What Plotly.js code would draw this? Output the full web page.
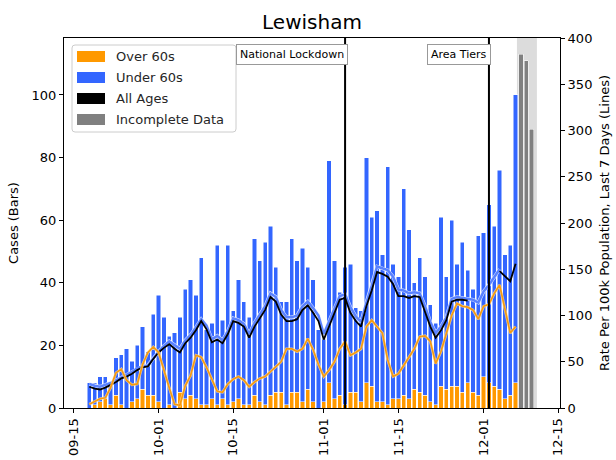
<!DOCTYPE html>
<html><head><meta charset="utf-8">
<script src="https://cdn.plot.ly/plotly-3.0.1.min.js"></script>
<style>html,body{margin:0;padding:0;background:#fff}#chart{width:616px;height:460px}</style>
</head><body><div id="chart"></div>
<script>
// ---- data ----
const startDate = '2020-09-18';   // first daily bar, one bar per day
const over60Cases = [0,1,2,3,1,4,1,0,2,3, 6,4,4,2,0,1,0,5,3,4, 3,1,1,3,1,3,1,2,3,1, 1,4,2,1,4,5,5,1,5,5, 2,6,2,0,2,8,3,4,1,5, 5,2,8,7,2,2,1,3,3,4, 3,6,5,4,2,1,7,6,7,7, 5,8,5,4,10,8,7,6,3,4, 8];
const under60Cases = [8,7,8,7,7,12,16,19,13,17, 20,14,26,34,29,22,24,24,35,37, 33,47,24,24,51,25,51,29,38,33, 28,50,45,52,54,40,29,33,49,42, 49,39,39,25,20,71,44,33,44,41, 27,29,72,54,61,47,76,43,39,66, 54,34,43,38,31,26,54,36,53,39, 48,36,33,51,46,57,51,70,46,48, 92];
const incompleteDates = ['2020-12-08','2020-12-09','2020-12-10'];
const incompleteCases = [113,111,89];
const allAgesRate = [23,21,20,22,25,28,32,34,37,41, 44,45,53,60,65,69,64,60,70,76, 84,94,85,71,74,70,80,94,92,88, 76,88,97,106,120,115,101,94,94,96, 106,111,103,94,74,88,103,117,119,103, 94,88,110,127,147,145,142,134,121,121, 119,121,120,105,88,76,84,95,115,117, 117,116,null,null,null,null,null,148,142,137, 156];
const under60Rate = [26,24,23,25,27,30,33,36,39,43, 45,46,54,61,67,72,68,64,73,79, 87,96,89,74,78,73,83,97,95,91, 80,92,101,110,124,120,106,98,98,100, 110,115,108,100,80,94,108,121,123,109, 99,93,114,132,153,151,149,142,128,127, 124,125,124,110,93,81,88,98,118,120, 119,118,117,114,126,133,141,150,null,null, null];
const over60Rate = [4,7,10,11,22,38,42,30,25,26, 47,60,66,60,40,22,4,3,24,35, 57,55,44,30,18,17,26,31,34,30, 23,28,32,34,39,45,50,64,64,61, 64,75,63,47,34,41,50,64,72,57, 60,64,88,95,88,81,52,34,37,46, 55,64,77,78,72,48,61,80,100,113, 110,109,106,96,110,112,124,133,105,81, 88];
const tickDates = ['2020-09-15','2020-10-01','2020-10-15','2020-11-01','2020-11-15','2020-12-01','2020-12-15'];
const tickLabels = ['09-15','10-01','10-15','11-01','11-15','12-01','12-15'];
const eventDates = ['2020-11-05','2020-12-02'];
const eventLabels = ['National Lockdown','Area Tiers'];
const legendLabels = ['Over 60s','Under 60s','All Ages','Incomplete Data'];
const legendColors = ['#ff9900','#3366ff','#000000','#808080'];

// ---- helpers ----
function dayList(start, n){
  const out = []; const t0 = Date.parse(start + 'T00:00:00Z');
  for (let i = 0; i < n; i++) out.push(new Date(t0 + i*864e5).toISOString().slice(0,10));
  return out;
}
const dates = dayList(startDate, over60Cases.length);
const DAY = 864e5;
const barW = 0.8*DAY;
const ORANGE = '#ff9900', BLUE = '#3366ff';

const traces = [
  {type:'bar', x:dates, y:over60Cases, width:barW, marker:{color:ORANGE, line:{color:'#ffffff', width:0.5}}, yaxis:'y'},
  {type:'bar', x:dates, y:under60Cases, width:barW, marker:{color:BLUE, line:{color:'#ffffff', width:0.5}}, yaxis:'y'},
  {type:'bar', x:incompleteDates, y:incompleteCases, width:barW, marker:{color:'#808080', line:{color:'#ffffff', width:0.5}}, yaxis:'y'},
  {type:'scatter', mode:'lines', x:dates, y:under60Rate, yaxis:'y2', line:{color:'rgba(235,241,255,0.9)', width:3.6}},
  {type:'scatter', mode:'lines', x:dates, y:under60Rate, yaxis:'y2', line:{color:'#5a82ff', width:2.5}},
  {type:'scatter', mode:'lines', x:dates, y:allAgesRate, yaxis:'y2', line:{color:'#000000', width:1.8}},
  {type:'scatter', mode:'lines', x:dates, y:over60Rate, yaxis:'y2', line:{color:'rgba(255,225,170,0.8)', width:2.8}},
  {type:'scatter', mode:'lines', x:dates, y:over60Rate, yaxis:'y2', line:{color:'#f59a10', width:1.7}}
];

const L = 64, R = 560, T = 38, B = 408;
const px2x = p => (p - L)/(R - L);
const px2y = p => (B - p)/(B - T);

const shapes = [
  {type:'rect', xref:'x', yref:'paper', x0:'2020-12-07 06:00', x1:'2020-12-11 00:00', y0:0, y1:1, fillcolor:'#dcdcdc', line:{width:0}, layer:'below'}
];
eventDates.forEach(d => shapes.push({type:'line', xref:'x', yref:'paper', x0:d, x1:d, y0:0, y1:1, line:{color:'#000', width:2}}));

const annotations = [];
eventDates.forEach((d,i) => annotations.push({
  xref:'x', yref:'paper', x:d + ' 11:00', y:px2y(55), xanchor:'right', yanchor:'middle',
  text:eventLabels[i], showarrow:false, font:{size:11, color:'#000'},
  bgcolor:'#ffffff', bordercolor:'#999999', borderwidth:1, borderpad:3
}));

// legend box drawn by hand (rounded frame, rectangular patches like the reference)
function roundedRectPath(x0, y0, x1, y1, r){
  // pixel coords -> paper coords, y0 top / y1 bottom in pixels
  const X = px2x, Y = px2y;
  return 'M ' + X(x0+r) + ' ' + Y(y0) +
    ' L ' + X(x1-r) + ' ' + Y(y0) + ' Q ' + X(x1) + ' ' + Y(y0) + ' ' + X(x1) + ' ' + Y(y0+r) +
    ' L ' + X(x1) + ' ' + Y(y1-r) + ' Q ' + X(x1) + ' ' + Y(y1) + ' ' + X(x1-r) + ' ' + Y(y1) +
    ' L ' + X(x0+r) + ' ' + Y(y1) + ' Q ' + X(x0) + ' ' + Y(y1) + ' ' + X(x0) + ' ' + Y(y1-r) +
    ' L ' + X(x0) + ' ' + Y(y0+r) + ' Q ' + X(x0) + ' ' + Y(y0) + ' ' + X(x0+r) + ' ' + Y(y0) + ' Z';
}
shapes.push({type:'path', xref:'paper', yref:'paper', path:roundedRectPath(72, 45, 236, 132, 3), fillcolor:'rgba(255,255,255,0.85)', line:{color:'#cccccc', width:1}});
const rowY = [56.5, 77.5, 98.5, 119.5];
legendLabels.forEach((lab,i) => {
  shapes.push({type:'rect', xref:'paper', yref:'paper', x0:px2x(77), x1:px2x(105), y0:px2y(rowY[i]+5.5), y1:px2y(rowY[i]-5.5), fillcolor:legendColors[i], line:{width:0}});
  annotations.push({xref:'paper', yref:'paper', x:px2x(114), y:px2y(rowY[i]), xanchor:'left', yanchor:'middle', text:lab, showarrow:false, font:{size:13, color:'#262626'}});
});

const layout = {
  width:616, height:460,
  margin:{l:L, r:616-R, t:T, b:460-B},
  paper_bgcolor:'#ffffff', plot_bgcolor:'#ffffff',
  font:{family:'DejaVu Sans', size:13, color:'#000'},
  showlegend:false, barmode:'stack', bargap:0,
  title:{text:'Lewisham', font:{size:20, color:'#000'}, x:0.5, xref:'paper', xanchor:'center', y:1-22/460, yanchor:'middle'},
  xaxis:{type:'date', range:['2020-09-13 06:00','2020-12-15 08:00'], tickvals:tickDates, ticktext:tickLabels, tickangle:-90,
         ticks:'outside', ticklen:4, tickcolor:'#000', showline:true, linecolor:'#000', linewidth:1, mirror:true,
         showgrid:false, zeroline:false, tickfont:{size:13}},
  yaxis:{range:[0,118.2], tickvals:[0,20,40,60,80,100], ticks:'outside', ticklen:4, tickcolor:'#000',
         showline:true, linecolor:'#000', linewidth:1, showgrid:false, zeroline:false, tickfont:{size:13},
         title:{text:'Cases (Bars)', font:{size:13}, standoff:10}},
  yaxis2:{overlaying:'y', side:'right', range:[0,400], tickvals:[0,50,100,150,200,250,300,350,400], ticks:'outside', ticklen:4, tickcolor:'#000',
          showline:true, linecolor:'#000', linewidth:1, showgrid:false, zeroline:false, tickfont:{size:13},
          title:{text:'Rate Per 100k Population, Last 7 Days (Lines)', font:{size:13}, standoff:8}},
  shapes:shapes, annotations:annotations
};

Plotly.newPlot('chart', traces, layout, {staticPlot:true, displayModeBar:false});
</script>
</body></html>
